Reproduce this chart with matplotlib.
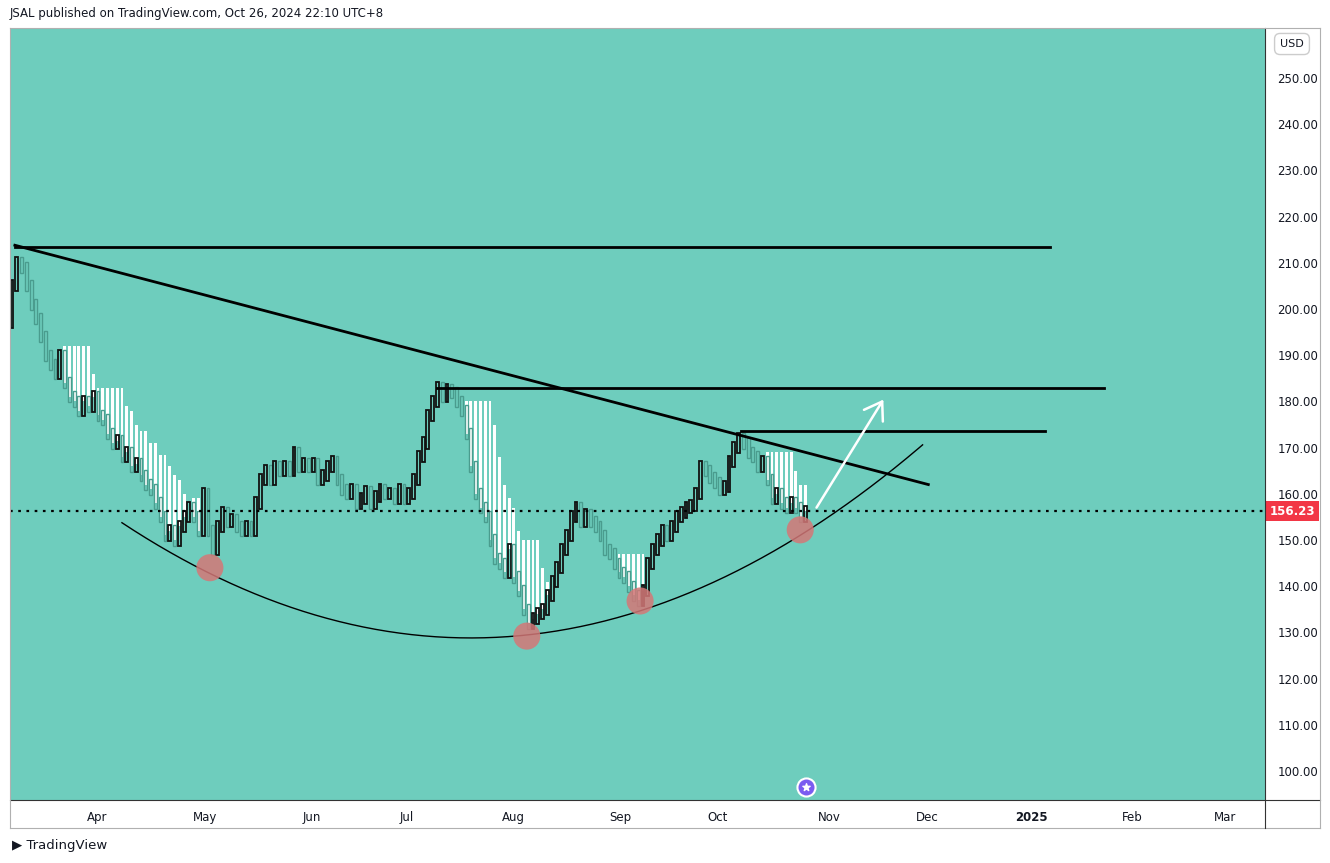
import matplotlib
matplotlib.use("Agg")
import matplotlib.pyplot as plt
from matplotlib.patches import Rectangle, FancyArrowPatch
import numpy as np

closes = [205,210,209,205,201,198,194,190,188,186,190,184,181,180,178,180,179,181,177,176,
          173,171,171.5,168,169,166,166.5,164,162,161,158,155,151,152,150,153,155,157,155,152,
          160,152,148,153,156,154,154.5,153,152,153,152,158,163,165,163,166,165,166,165,169,
          166,166.5,166,166.5,163,164,166,167,163,161,160,161,158,159,160.5,158,159.5,161,160,160,
          159,161,159,160,163,168,171,177,180,183,181,182.5,182,180,178,173,166,160,157,155,
          150,146,145,143,148,142,139,135,132,133,134,135,138,141,144,148,151,155,157,154,
          155.5,154,153,151,148,147,145,143,142,140,138,137,139,145,148,150,152,151,153,155,
          156,157,157.5,160,166,165,163.5,162.5,161,161.5,167,170,172,171,169,168,166,167,163,159,
          160,158,157,158,157,155,156.23]
first_open = 197
shade_windows = [(11, 40), (95, 117), (127, 136), (157, 166)]
month_labels = ["Apr", "May", "Jun", "Jul", "Aug", "Sep", "Oct", "Nov", "Dec", "2025", "Feb", "Mar"]
month_px = [97, 205, 312, 407, 513, 620, 718, 829, 927, 1031, 1132, 1225]
price_ticks = [100, 110, 120, 130, 140, 150, 160, 170, 180, 190, 200, 210, 220, 230, 240, 250]
last_price = 156.23
resistance_1 = 213.5
resistance_2 = 182.8
resistance_3 = 173.6
trend_pts = [(0.6, 213.8), (191.7, 162.0)]
curve_pts = [(23, 153.5), (96, 128.8), (190.5, 171.0)]
circles = [(41.4, 144.0), (107.7, 129.2), (131.4, 136.8), (164.9, 152.2)]
arrow_pts = [(168, 156.5), (182.6, 180.9)]

BG = "#6ecdbd"
W, H = 1330, 863
fig = plt.figure(figsize=(W/100, H/100), dpi=100)
fig.patch.set_facecolor("white")
L, R, T, B = 10, 1265, 28, 800
ax = fig.add_axes([L/W, 1-B/H, (R-L)/W, (B-T)/H])
ax.set_facecolor(BG)
pxb = 4.78
def px2i(px): return (px-12)/pxb
ax.set_xlim(px2i(L), px2i(R))
ax.set_ylim(250-(B-78)/4.62, 250+(78-T)/4.62)

n = len(closes)
opens = [first_open] + closes[:-1]
for a, b in shade_windows:
    for i in range(a, b+1):
        top = max(closes[max(a-1, i-6):i+1]) + 2
        if top - closes[i] > 2.5:
            ax.add_patch(Rectangle((i-0.3, closes[i]), 0.6, top-closes[i], facecolor="white", edgecolor="none", zorder=2))
for i in range(n):
    o, c = opens[i], closes[i]
    lo, hi = min(o, c) - 1.2, max(o, c) + 1.2
    up = c >= o
    ax.add_patch(Rectangle((i-0.3, lo), 0.6, hi-lo, facecolor="none",
                           edgecolor="#111111" if up else "#4a9c8e", lw=1.3 if up else 1.0, zorder=3))

ax.plot([0.6, px2i(1050)], [resistance_1]*2, color="black", lw=2, zorder=4)
ax.plot([px2i(437), px2i(1104)], [resistance_2]*2, color="black", lw=2, zorder=4)
ax.plot([px2i(741), px2i(1045)], [resistance_3]*2, color="black", lw=2, zorder=4)
ax.plot([p[0] for p in trend_pts], [p[1] for p in trend_pts], color="black", lw=2, zorder=4)
(x0, y0), (xm, ym), (x1, y1) = curve_pts
xs = np.linspace(x0, x1, 200)
k = ((y0-ym)/(x0-xm)**2 + (y1-ym)/(x1-xm)**2)/2
ax.plot(xs, ym + k*(xs-xm)**2, color="black", lw=1, zorder=4)
ax.axhline(last_price, color="black", lw=1.6, ls=(0, (1.2, 2.5)), zorder=4)
ax.scatter([c[0] for c in circles], [c[1] for c in circles], s=380, color="#d47777", alpha=0.85, zorder=5, edgecolors="none")
ax.add_patch(FancyArrowPatch(arrow_pts[0], arrow_pts[1], arrowstyle="->,head_length=0.6,head_width=0.4",
                             color="white", lw=1.8, mutation_scale=20, zorder=6))

ax.yaxis.tick_right()
ax.set_yticks(price_ticks)
ax.set_yticklabels([f"{v:.2f}" for v in price_ticks], fontsize=8.5, color="#131722")
ax.tick_params(axis="y", length=0, pad=9)
ax.set_xticks([px2i(p) for p in month_px])
ax.set_xticklabels(month_labels, fontsize=8.5, color="#131722")
for lab in ax.get_xticklabels():
    if lab.get_text() == "2025": lab.set_fontweight("bold")
ax.tick_params(axis="x", length=0, pad=8)
for s in ax.spines.values():
    s.set_visible(False)

fig.add_artist(plt.Line2D([L/W, 1320/W], [1-B/H]*2, color="#333333", lw=0.8))
fig.add_artist(plt.Line2D([L/W, 1320/W], [1-828/H]*2, color="#b0b0b0", lw=0.8))
fig.add_artist(plt.Line2D([R/W]*2, [1-T/H, 1-828/H], color="#333333", lw=0.8))
fig.add_artist(plt.Line2D([1320/W]*2, [1-T/H, 1-828/H], color="#b0b0b0", lw=0.8))
fig.add_artist(plt.Line2D([L/W]*2, [1-T/H, 1-828/H], color="#b0b0b0", lw=0.8))
fig.add_artist(plt.Line2D([L/W, 1320/W], [1-T/H]*2, color="#b0b0b0", lw=0.8))

ax.text(1.0 + 5/(R-L), last_price, "156.23", transform=ax.get_yaxis_transform(), fontsize=8.5,
        fontweight="bold", color="white", va="center", ha="left",
        bbox=dict(boxstyle="square,pad=0.3", fc="#f23645", ec="none"), zorder=10, clip_on=False)
fig.text(1292/W, 1-44/H, "USD", fontsize=8, ha="center", va="center", color="#131722",
         bbox=dict(boxstyle="round,pad=0.5", fc="white", ec="#cccccc"))
fig.text(10/W, 1-14/H, "JSAL published on TradingView.com, Oct 26, 2024 22:10 UTC+8", fontsize=8.5,
         va="center", color="#131722")
fig.text(12/W, 1-845/H, "\u25B6 TradingView", fontsize=9.5, va="center", color="#131722")
ax.scatter([px2i(806)], [93.7+(800-787)/4.62], s=170, color="#7b5cf0", zorder=7, clip_on=False, edgecolors="white", linewidths=1.5)
ax.scatter([px2i(806)], [93.7+(800-787)/4.62], s=30, marker="*", color="white", zorder=8, clip_on=False)
fig.savefig("out.png", dpi=100, facecolor="white")
